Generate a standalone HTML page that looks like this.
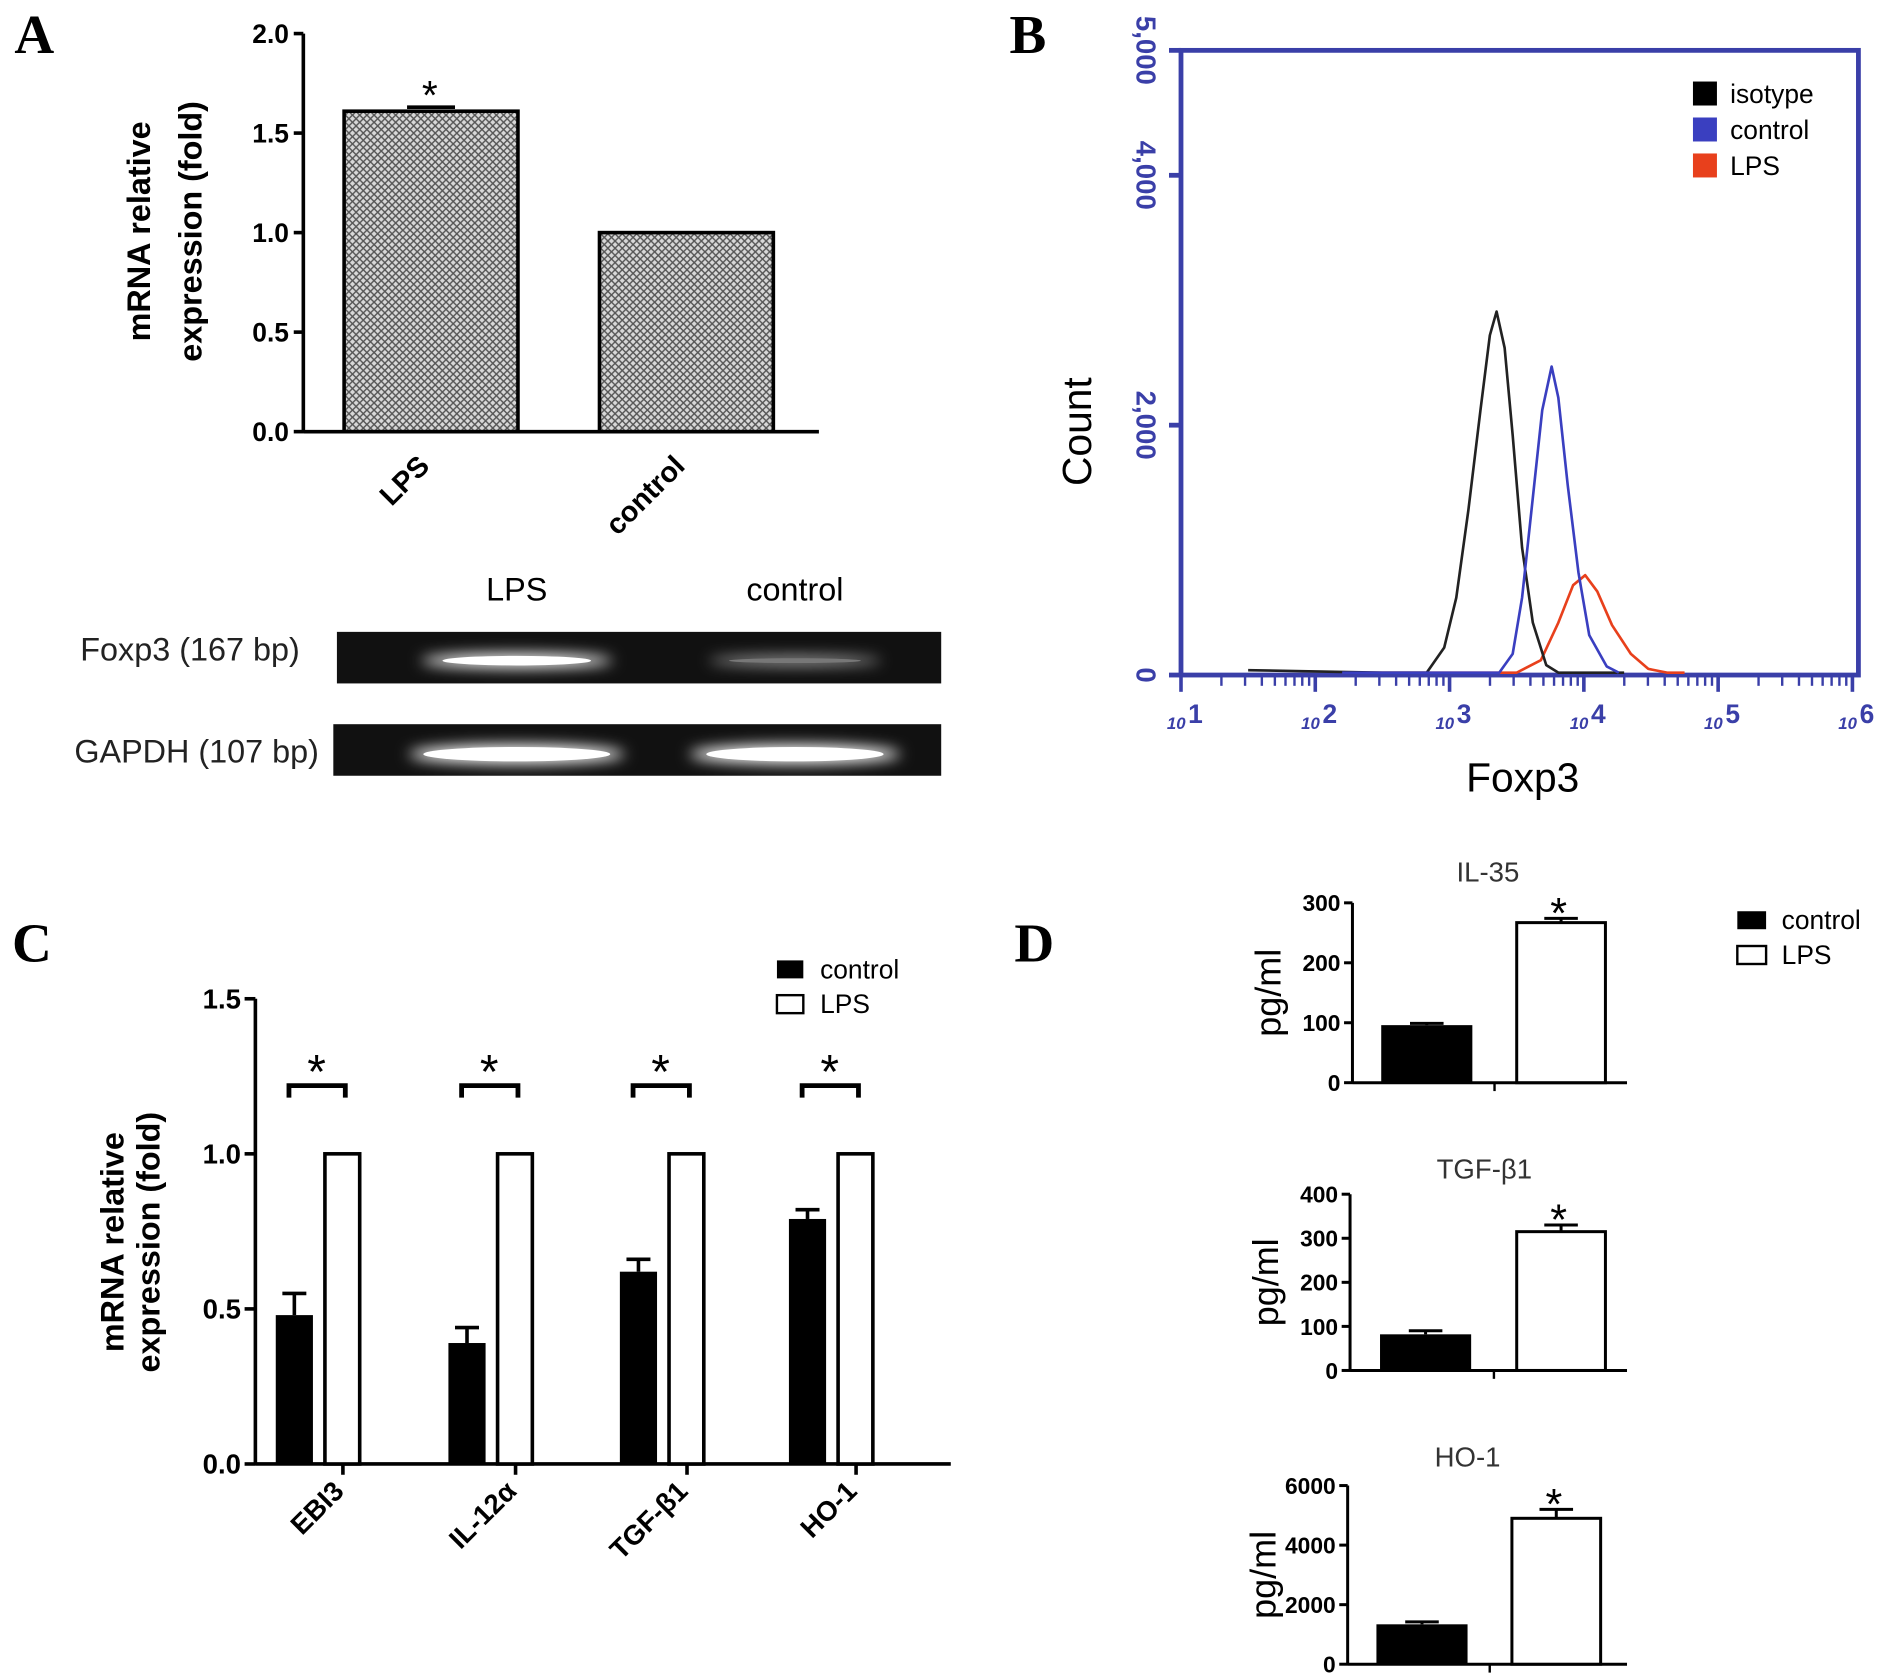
<!DOCTYPE html>
<html><head><meta charset="utf-8"><title>Figure</title>
<style>
html,body{margin:0;padding:0;background:#fff}
svg{display:block}
text{font-family:"Liberation Sans",Arial,sans-serif}
.b{font-weight:bold}
.lt{font-family:"Liberation Serif",serif;font-weight:bold;font-size:46px}
</style></head>
<body>
<svg id="fig" xmlns="http://www.w3.org/2000/svg" width="1880" height="1675" viewBox="0 0 1568 1397" preserveAspectRatio="none">
<defs>
<pattern id="hatch" width="6" height="6" patternUnits="userSpaceOnUse">
<rect width="6" height="6" fill="#d8d8d8"/>
<path d="M0,0 L6,6 M6,0 L0,6" stroke="#555" stroke-width="1.2"/>
</pattern>
<filter id="glow" x="-30%" y="-200%" width="160%" height="500%"><feGaussianBlur stdDeviation="6"/></filter>
</defs>
<g id="root"></g>
</svg>
<script>
// ---------- Panel A data ----------
const aCats = ["LPS","control"];
const aVals = [1.61, 1.0];
const aErr = [0.02, 0];
const aTicks = [0.0,0.5,1.0,1.5,2.0];
// ---------- Panel B data (log10 intensity, count) ----------
const bIsoX = [1.5,2.0,2.5,2.83,2.96,3.05,3.14,3.23,3.30,3.35,3.41,3.47,3.54,3.62,3.72,3.81,4.3];
const bIsoY = [20,10,0,0,200,600,1300,2100,2700,2890,2600,1900,1000,400,60,0,0];
const bCtlX = [2.2,3.0,3.37,3.47,3.54,3.62,3.69,3.76,3.81,3.88,3.96,4.04,4.17,4.26];
const bCtlY = [0,0,0,150,600,1400,2100,2450,2200,1500,800,300,50,0];
const bLpsX = [2.2,3.0,3.50,3.68,3.81,3.92,4.01,4.10,4.21,4.35,4.48,4.62,4.75];
const bLpsY = [0,0,0,100,400,700,780,650,380,150,30,0,0];
const bYTicks = [0,2000,4000,5000];
const bYLabels = ["0","2,000","4,000","5,000"];
const bDecades = [1,2,3,4,5,6];
// ---------- Panel C data ----------
const cCats = ["EBI3","IL-12α","TGF-β1","HO-1"];
const cCtl = [0.48,0.39,0.62,0.79];
const cCtlErr = [0.07,0.05,0.04,0.03];
const cLps = [1.0,1.0,1.0,1.0];
const cTicks = [0.0,0.5,1.0,1.5];
// ---------- Panel D data ----------
const dTitles = ["IL-35","TGF-β1","HO-1"];
const dCtl = [96,82,1340];
const dCtlErr = [3,8,80];
const dLps = [267,315,4900];
const dLpsErr = [7,15,300];
const dMax = [300,400,6000];
const dTicks = [[0,100,200,300],[0,100,200,300,400],[0,2000,4000,6000]];

const NS="http://www.w3.org/2000/svg";
const root=document.getElementById('root');
function mk(tag,attrs,parent,txt){const e=document.createElementNS(NS,tag);for(const k in attrs)e.setAttribute(k,attrs[k]);if(txt!==undefined)e.textContent=txt;(parent||root).appendChild(e);return e;}

// Panel letters
[["A",12,44],["B",842,44],["C",10,802],["D",846,802]].forEach(l=>{
  const t=mk('text',{x:l[1],y:l[2],class:'lt'},root,l[0]);
  
  
});

// ===== Panel A =====
(function(){
  const g=mk('g',{});
  
  
  const x0=253,y0=360,top=28,max=2.0;
  const y=v=>y0-(v/max)*(y0-top);
  mk('line',{x1:x0,y1:top,x2:x0,y2:y0+1,stroke:'#000','stroke-width':3},g);
  mk('line',{x1:x0,y1:y0,x2:683,y2:y0,stroke:'#000','stroke-width':3},g);
  aTicks.forEach(t=>{
    mk('line',{x1:x0-8,y1:y(t),x2:x0,y2:y(t),stroke:'#000','stroke-width':3},g);
    const tl=mk('text',{x:x0-12,y:y(t)+8,'text-anchor':'end','font-size':22,class:'b'},g,t.toFixed(1));
    
    
  });
  const lefts=[287,500],w=145;
  aCats.forEach((c,i)=>{
    const r=mk('rect',{x:lefts[i],y:y(aVals[i]),width:w,height:y0-y(aVals[i]),fill:'url(#hatch)',stroke:'#000','stroke-width':3},g);
    
    
    if(aErr[i]>0){const cx=lefts[i]+w/2;mk('line',{x1:cx-20,y1:y(aVals[i]+aErr[i]),x2:cx+20,y2:y(aVals[i]+aErr[i]),stroke:'#000','stroke-width':3},g);
      const s=mk('text',{x:cx-1,y:y(aVals[i])-2,'text-anchor':'middle','font-size':34},g,'*');
      }
    const cx=lefts[i]+w/2;
    const xl=mk('text',{x:cx,y:y0+30,'text-anchor':'end','font-size':24,class:'b',transform:`rotate(-45 ${cx} ${y0+30})`},g,c);
    
  });
  const t1=mk('text',{x:0,y:0,'text-anchor':'middle','font-size':27,class:'b',transform:'translate(125 193) rotate(-90)'},g,'mRNA relative');
  
  mk('text',{x:0,y:0,'text-anchor':'middle','font-size':27,class:'b',transform:'translate(168 193) rotate(-90)'},g,'expression (fold)');
  // gel
  const gg=mk('g',{});
  mk('text',{x:431,y:501,'text-anchor':'middle','font-size':27},gg,'LPS');
  mk('text',{x:663,y:501,'text-anchor':'middle','font-size':27},gg,'control');
  mk('text',{x:250,y:551,'text-anchor':'end','font-size':27,fill:'#222'},gg,'Foxp3 (167 bp)');
  mk('text',{x:266,y:636,'text-anchor':'end','font-size':27,fill:'#222'},gg,'GAPDH (107 bp)');
  mk('rect',{x:281,y:527,width:504,height:43,fill:'#111'},gg);
  mk('rect',{x:278,y:604,width:507,height:43,fill:'#111'},gg);
  mk('ellipse',{cx:431,cy:551,rx:80,ry:6,fill:'#fff',filter:'url(#glow)'},gg);
  mk('ellipse',{cx:431,cy:551,rx:62,ry:4,fill:'#fff'},gg);
  mk('ellipse',{cx:663,cy:551,rx:72,ry:4,fill:'#aaa',filter:'url(#glow)'},gg);
  mk('ellipse',{cx:663,cy:551,rx:55,ry:2,fill:'#777'},gg);
  mk('ellipse',{cx:431,cy:629,rx:90,ry:8,fill:'#fff',filter:'url(#glow)'},gg);
  mk('ellipse',{cx:431,cy:629,rx:78,ry:6,fill:'#fff'},gg);
  mk('ellipse',{cx:663,cy:629,rx:88,ry:8,fill:'#fff',filter:'url(#glow)'},gg);
  mk('ellipse',{cx:663,cy:629,rx:74,ry:6,fill:'#fff'},gg);
})();

// ===== Panel B =====
(function(){
  const g=mk('g',{});
  
  
  const L=985,R=1550,T=42,B=563,dec=112,blue='#3a3fa8';
  const X=l=>L+(l-1)*dec, Y=c=>B-(c/5000)*(B-T);
  mk('rect',{x:L,y:T,width:R-L,height:B-T,fill:'none',stroke:blue,'stroke-width':4},g);
  bYTicks.forEach((t,i)=>{
    mk('line',{x1:L-10,y1:Y(t),x2:L,y2:Y(t),stroke:blue,'stroke-width':4},g);
    const tl=mk('text',{x:0,y:0,'text-anchor':'middle','font-size':23,class:'b',fill:blue,transform:`translate(948 ${Y(t)}) rotate(90)`},g,bYLabels[i]);
    
  });
  for(let d=1;d<6;d++){for(let k=1;k<10;k++){const xx=X(d+Math.log10(k));mk('line',{x1:xx,y1:B,x2:xx,y2:B+(k==1?14:9),stroke:blue,'stroke-width':k==1?3:2},g);}}
  mk('line',{x1:X(6),y1:B,x2:X(6),y2:B+14,stroke:blue,'stroke-width':3},g);
  bDecades.forEach(d=>{
    const t=mk('text',{x:X(d)-4,y:B+45,'text-anchor':'middle','font-size':14,fill:blue,'font-style':'italic',class:'b'},g,'10');
    
    mk('text',{x:X(d)+6,y:B+40,'font-size':22,fill:blue,class:'b'},g,String(d));
  });
  function series(xs,ys,col,name){
    const p=mk('polyline',{points:xs.map((x,i)=>X(x)+','+(Y(ys[i])-2)).join(' '),fill:'none',stroke:col,'stroke-width':2.2,'stroke-linejoin':'round'},g);
    
  }
  series(bLpsX,bLpsY,'#e8401c','line-lps');
  series(bIsoX,bIsoY,'#222','line-isotype');
  series(bCtlX,bCtlY,'#3a3fc0','line-control');
  const leg=[['isotype','#000'],['control','#3a3fc0'],['LPS','#e8401c']];
  leg.forEach((l,i)=>{
    const r=mk('rect',{x:1412,y:68+i*30,width:20,height:20,fill:l[1]},g);
    
    const t=mk('text',{x:1443,y:86+i*30,'font-size':22},g,l[0]);
    
  });
  const yt=mk('text',{x:0,y:0,'text-anchor':'middle','font-size':34,transform:'translate(910 360) rotate(-90)'},g,'Count');
  
  const xt=mk('text',{x:1270,y:660,'text-anchor':'middle','font-size':34},g,'Foxp3');
  
})();

// ===== Panel C =====
(function(){
  const g=mk('g',{});
  
  
  const x0=213,y0=1221,top=833,max=1.5;
  const y=v=>y0-(v/max)*(y0-top);
  mk('line',{x1:x0,y1:top,x2:x0,y2:y0+1,stroke:'#000','stroke-width':3},g);
  mk('line',{x1:x0,y1:y0,x2:793,y2:y0,stroke:'#000','stroke-width':3},g);
  cTicks.forEach(t=>{
    mk('line',{x1:x0-9,y1:y(t),x2:x0,y2:y(t),stroke:'#000','stroke-width':3},g);
    const tl=mk('text',{x:x0-12,y:y(t)+8,'text-anchor':'end','font-size':23,class:'b'},g,t.toFixed(1));
    
  });
  const centers=[286,430,573,714];
  cCats.forEach((c,i)=>{
    const cx=centers[i];
    mk('line',{x1:cx,y1:y0,x2:cx,y2:y0+9,stroke:'#000','stroke-width':3},g);
    const r1=mk('rect',{x:cx-56,y:y(cCtl[i]),width:31,height:y0-y(cCtl[i]),fill:'#000'},g);
    
    const ex=cx-40.5;
    mk('line',{x1:ex,y1:y(cCtl[i]),x2:ex,y2:y(cCtl[i]+cCtlErr[i]),stroke:'#000','stroke-width':3},g);
    mk('line',{x1:ex-10,y1:y(cCtl[i]+cCtlErr[i]),x2:ex+10,y2:y(cCtl[i]+cCtlErr[i]),stroke:'#000','stroke-width':3},g);
    const r2=mk('rect',{x:cx-15,y:y(cLps[i]),width:29,height:y0-y(cLps[i]),fill:'#fff',stroke:'#000','stroke-width':3},g);
    
    const by=y(1.22);
    mk('path',{d:`M${cx-45},${by+10} L${cx-45},${by} L${cx+2},${by} L${cx+2},${by+10}`,fill:'none',stroke:'#000','stroke-width':4},g);
    const s=mk('text',{x:cx-22,y:by+2,'text-anchor':'middle','font-size':40},g,'*');
    
    const xl=mk('text',{x:cx+2,y:y0+24,'text-anchor':'end','font-size':23,class:'b',transform:`rotate(-45 ${cx+2} ${y0+24})`},g,c);
    
  });
  const t1=mk('text',{x:0,y:0,'text-anchor':'middle','font-size':27,class:'b',transform:'translate(103 1036) rotate(-90)'},g,'mRNA relative');
  
  mk('text',{x:0,y:0,'text-anchor':'middle','font-size':27,class:'b',transform:'translate(133 1036) rotate(-90)'},g,'expression (fold)');
  const l1=mk('rect',{x:648,y:801,width:22,height:15,fill:'#000'},g);
  
  const lt1=mk('text',{x:684,y:816,'font-size':22},g,'control');
  
  const l2=mk('rect',{x:648,y:830,width:22,height:15,fill:'#fff',stroke:'#000','stroke-width':2},g);
  
  const lt2=mk('text',{x:684,y:845,'font-size':22},g,'LPS');
  
})();

// ===== Panel D =====
(function(){
  const g=mk('g',{});
  
  
  const geo=[{x0:1128,top:753,y0:903,x1:1357,c:1152,l:1265,tx:1241,ty:735},
             {x0:1126,top:996,y0:1143,x1:1357,c:1151,l:1265,tx:1238,ty:983},
             {x0:1124,top:1239,y0:1388,x1:1357,c:1148,l:1261,tx:1224,ty:1223}];
  dTitles.forEach((title,i)=>{
    const G=geo[i];
    const sg=mk('g',{},g);
    
    const y=v=>G.y0-(v/dMax[i])*(G.y0-G.top);
    mk('line',{x1:G.x0,y1:G.top,x2:G.x0,y2:G.y0+1,stroke:'#000','stroke-width':2.5},sg);
    mk('line',{x1:G.x0,y1:G.y0,x2:G.x1,y2:G.y0,stroke:'#000','stroke-width':2.5},sg);
    mk('line',{x1:(G.c+G.l+76)/2,y1:G.y0,x2:(G.c+G.l+76)/2,y2:G.y0+7,stroke:'#000','stroke-width':2},sg);
    dTicks[i].forEach(t=>{
      mk('line',{x1:G.x0-7,y1:y(t),x2:G.x0,y2:y(t),stroke:'#000','stroke-width':2.5},sg);
      const tl=mk('text',{x:G.x0-10,y:y(t)+7,'text-anchor':'end','font-size':19,class:'b'},sg,String(t));
      
    });
    const w=76;
    const r1=mk('rect',{x:G.c,y:y(dCtl[i]),width:w,height:G.y0-y(dCtl[i]),fill:'#000'},sg);
    
    mk('line',{x1:G.c+w/2-14,y1:y(dCtl[i]+dCtlErr[i]),x2:G.c+w/2+14,y2:y(dCtl[i]+dCtlErr[i]),stroke:'#000','stroke-width':2.5},sg);
    mk('line',{x1:G.c+w/2,y1:y(dCtl[i]),x2:G.c+w/2,y2:y(dCtl[i]+dCtlErr[i]),stroke:'#000','stroke-width':2.5},sg);
    const r2=mk('rect',{x:G.l,y:y(dLps[i]),width:w-2,height:G.y0-y(dLps[i]),fill:'#fff',stroke:'#000','stroke-width':2.5},sg);
    
    const lx=G.l+w/2-1;
    mk('line',{x1:lx,y1:y(dLps[i]),x2:lx,y2:y(dLps[i]+dLpsErr[i]),stroke:'#000','stroke-width':2.5},sg);
    mk('line',{x1:lx-14,y1:y(dLps[i]+dLpsErr[i]),x2:lx+14,y2:y(dLps[i]+dLpsErr[i]),stroke:'#000','stroke-width':2.5},sg);
    const s=mk('text',{x:lx-2,y:y(dLps[i]+dLpsErr[i])+8,'text-anchor':'middle','font-size':36},sg,'*');
    
    const tt=mk('text',{x:G.tx,y:G.ty,'text-anchor':'middle','font-size':23,fill:'#333'},sg,title);
    
    const yt=mk('text',{x:0,y:0,'text-anchor':'middle','font-size':30,transform:`translate(${G.x0-60} ${(G.top+G.y0)/2}) rotate(-90)`},sg,'pg/ml');
    
  });
  const l1=mk('rect',{x:1449,y:760,width:24,height:15,fill:'#000'},g);
  
  const lt1=mk('text',{x:1486,y:775,'font-size':22},g,'control');
  
  const l2=mk('rect',{x:1449,y:789,width:24,height:15,fill:'#fff',stroke:'#000','stroke-width':2},g);
  
  const lt2=mk('text',{x:1486,y:804,'font-size':22},g,'LPS');
  
})();
</script>
</body></html>
